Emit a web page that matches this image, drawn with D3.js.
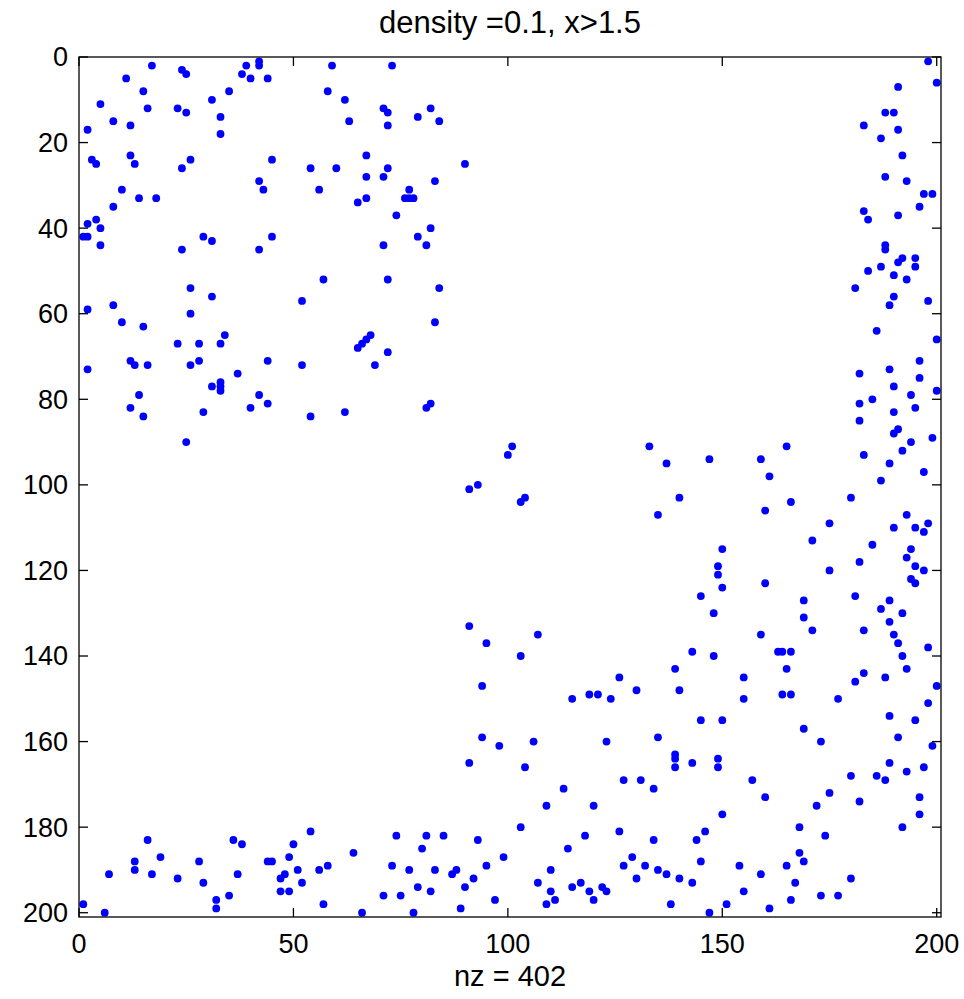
<!DOCTYPE html>
<html><head><meta charset="utf-8">
<script src="https://cdn.jsdelivr.net/npm/d3@7/dist/d3.min.js"></script>
<style>body{margin:0;background:#fff;} text{font-family:"Liberation Sans",Arial,Helvetica,sans-serif;}</style>
</head><body>
<svg id="c" width="964" height="999"></svg>
<script>
const titleText = "density =0.1, x>1.5";
const xLabelText = "nz = 402";
const xTicks = [0,50,100,150,200];
const yTicks = [0,20,40,60,80,100,120,140,160,180,200];
// nonzero positions [column, row]
const topLeftBlock = [[17,2],[24,3],[25,4],[39,2],[42,1],[42,2],[38,4],[40,5],[44,5],[11,5],[15,8],[35,8],[5,11],[16,12],[23,12],[25,13],[31,10],[33,14],[33,18],[8,15],[12,16],[2,17],[3,24],[4,25],[12,23],[13,25],[24,26],[26,24],[45,24],[42,29],[43,31],[10,31],[14,33],[18,33],[8,35],[4,38],[2,39],[5,40],[1,42],[2,42],[5,44],[24,45],[29,42],[31,43],[42,45],[45,42],[26,54],[31,56],
[59,2],[73,2],[58,8],[62,10],[71,12],[72,13],[82,12],[79,14],[84,15],[63,15],[72,16],[67,23],[54,26],[60,26],[72,26],[90,25],[67,28],[71,28],[83,29],[56,31],[77,31],[76,33],[77,33],[78,33],[67,33],[65,34],[74,37],[82,40],[79,42],[81,44],[71,44],[57,52],[72,52],[84,54],
[2,59],[8,58],[26,60],[10,62],[15,63],[34,65],[23,67],[28,67],[33,67],[12,71],[13,72],[16,72],[26,72],[28,71],[44,71],[2,73],[37,74],[31,77],[33,76],[33,77],[33,78],[14,79],[12,82],[15,84],[29,83],[42,79],[40,82],[44,81],[25,90],
[52,57],[83,62],[65,68],[66,67],[67,66],[68,65],[72,69],[52,72],[69,72],[81,82],[82,81],[54,84],[62,83]];
const rightColumn = [[198,1],[200,6],[191,7],[188,13],[190,13],[183,16],[191,17],[187,19],[192,23],[188,28],[193,29],[197,32],[199,32],[196,35],[183,36],[184,38],[191,37],[188,44],[188,45],[192,47],[191,48],[195,47],[195,49],[187,49],[184,50],[190,51],[193,52],[181,54],[190,56],[189,58],[198,57],[186,64],[200,66],[196,71],[189,73],[182,74],[196,75],[190,77],[200,78],[194,79],[185,80],[182,81],[195,82],[190,83],[182,85],[191,87],[190,88],[199,89],[194,90],[192,92],[183,93],[189,95],[197,97],[187,99],
[180,103],[193,107],[175,109],[190,110],[195,110],[198,109],[197,111],[185,114],[194,115],[193,117],[182,118],[175,120],[195,119],[197,120],[194,122],[195,123],[181,126],[189,127],[187,129],[192,130],[189,132],[183,134],[190,135],[191,137],[198,138],[192,140],[193,143],[183,144],[181,146],[188,145],[200,147],[177,150]];
const bottomRightBlock = [[101,91],[100,93],[93,100],[91,101],[104,103],[103,104],[133,91],[137,95],[140,103],[135,107],[145,126],[91,133],[95,137],[107,135],[103,140],[94,147],[143,139],[139,143],[126,145],[140,148],[130,148],[115,150],[119,149],[121,149],[124,150],
[147,94],[159,94],[165,91],[161,98],[166,104],[160,106],[171,113],[150,115],[149,119],[149,121],[150,124],[160,123],[148,130],[169,127],[169,131],[171,134],[159,135],[163,139],[164,139],[166,139],[148,140],[165,143],[155,145],[155,150],[164,149],[166,149],
[145,155],[94,159],[98,161],[106,160],[91,165],[104,166],[123,160],[135,159],[139,163],[139,164],[139,166],[143,165],[127,169],[131,169],[134,171],[113,171],[109,175],[120,175],[103,180],[85,182],[93,183],[118,182],[126,181],[134,183],[144,183],[114,185],[99,187],[95,189],[87,191],[88,190],[92,192],[90,194],[89,199],[97,197],[110,190],[107,193],[110,195],[111,197],[109,198],[115,194],[117,193],[119,195],[120,197],[122,194],[123,195],[127,189],[129,187],[130,192],[132,189],[135,190],[137,191],[140,192],[143,193],[138,198],[145,188],
[198,151],[150,155],[189,154],[195,155],[169,157],[173,160],[191,159],[199,161],[149,164],[149,166],[157,169],[160,173],[150,177],[180,168],[189,165],[186,168],[188,169],[193,167],[197,166],[175,172],[182,174],[172,175],[196,173],[196,177],[192,180],[168,180],[174,182],[146,181],[168,186],[169,188],[154,189],[165,189],[159,191],[167,193],[180,192],[155,195],[166,197],[173,196],[177,196],[151,198],[161,199],[147,200]];
const bottomRow = [[1,198],[6,200],[7,191],[13,188],[13,190],[16,183],[17,191],[19,187],[23,192],[28,188],[29,193],[32,197],[32,199],[35,196],[36,183],[38,184],[37,191],[44,188],[45,188],[47,192],[48,191],[47,195],[49,195],[49,187],[50,184],
[51,190],[52,193],[54,181],[56,190],[58,189],[57,198],[64,186],[66,200],[71,196],[73,189],[74,182],[75,196],[77,190],[78,200],[79,194],[80,185],[81,182],[82,195],[83,190]];

const points = [].concat(topLeftBlock, rightColumn, bottomRightBlock, bottomRow);
const n = 200;

const svg = d3.select("#c");
const L = 79, R = 941, T = 57, B = 917;
const x = d3.scaleLinear().domain([0, n+1]).range([L, R]);
const y = d3.scaleLinear().domain([0, n+1]).range([T, B]);

svg.append("rect").attr("x",0).attr("y",0).attr("width",964).attr("height",999).attr("fill","#fff");

svg.append("g").selectAll("circle").data(points).join("circle")
  .attr("cx", d => x(d[0])).attr("cy", d => y(d[1])).attr("r", 3.9).attr("fill", "#0000ff");

const tl = 9;
const fs = 27;
const ax = svg.append("g").attr("stroke","#000").attr("stroke-width",1.3).attr("fill","none");
ax.append("rect").attr("x",L).attr("y",T).attr("width",R-L).attr("height",B-T);
xTicks.forEach(v => {
  ax.append("line").attr("x1",x(v)).attr("x2",x(v)).attr("y1",B).attr("y2",B-tl);
  ax.append("line").attr("x1",x(v)).attr("x2",x(v)).attr("y1",T).attr("y2",T+tl);
});
yTicks.forEach(v => {
  ax.append("line").attr("x1",L).attr("x2",L+tl).attr("y1",y(v)).attr("y2",y(v));
  ax.append("line").attr("x1",R).attr("x2",R-tl).attr("y1",y(v)).attr("y2",y(v));
});
const lab = svg.append("g").attr("font-size",fs).attr("fill","#000");
xTicks.forEach(v => {
  lab.append("text").attr("x",x(v)).attr("y",B+36).attr("text-anchor","middle").text(v);
});
yTicks.forEach(v => {
  lab.append("text").attr("x",L-11).attr("y",y(v)).attr("dy","0.35em").attr("text-anchor","end").text(v);
});
lab.append("text").attr("x",(L+R)/2).attr("y",33).attr("font-size",31).attr("text-anchor","middle").text(titleText);
lab.append("text").attr("x",(L+R)/2).attr("y",986).attr("font-size",29).attr("text-anchor","middle").text(xLabelText);
</script>
</body></html>
